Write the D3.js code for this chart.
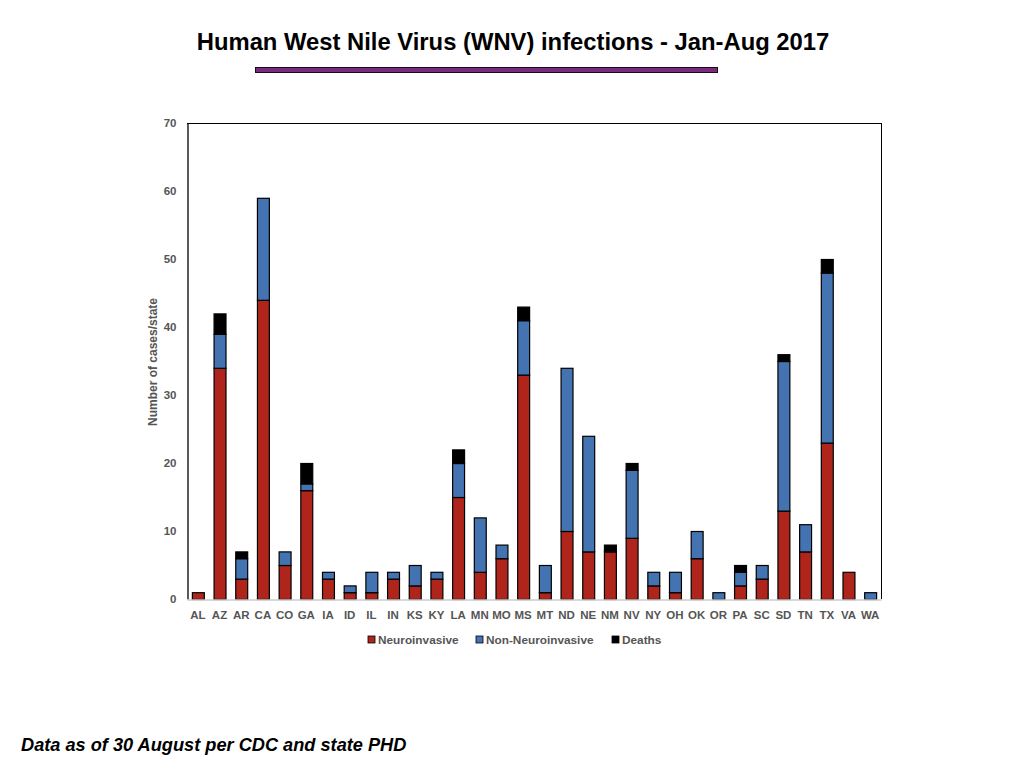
<!DOCTYPE html>
<html><head><meta charset="utf-8">
<script src="https://cdn.jsdelivr.net/npm/d3@7"></script>
<style>
body{margin:0;background:#fff;}
svg{display:block;font-family:"Liberation Sans",Arial,Helvetica,sans-serif;}
</style></head>
<body>
<svg id="chart" width="1024" height="768"></svg>
<script>
const states = ["AL","AZ","AR","CA","CO","GA","IA","ID","IL","IN","KS","KY","LA","MN","MO","MS","MT","ND","NE","NM","NV","NY","OH","OK","OR","PA","SC","SD","TN","TX","VA","WA"];
const neuroinvasive =    [1,34,3,44,5,16,3,1,1,3,2,3,15,4,6,33,1,10,7,7,9,2,1,6,0,2,3,13,7,23,4,0];
const nonNeuroinvasive = [0,5,3,15,2,1,1,1,3,1,3,1,5,8,2,8,4,24,17,0,10,2,3,4,1,2,2,22,4,25,0,1];
const deaths =           [0,3,1,0,0,3,0,0,0,0,0,0,2,0,0,2,0,0,0,1,1,0,0,0,0,1,0,1,0,2,0,0];
const seriesNames = ["Neuroinvasive","Non-Neuroinvasive","Deaths"];
const seriesColors = ["#b0251b","#4373b1","#000000"];
const yTicks = [0,10,20,30,40,50,60,70];

const svg = d3.select("#chart");
const m = {left:187, right:881, top:123, bottom:599};

const rows = states.map((s,i)=>({state:s, "Neuroinvasive":neuroinvasive[i], "Non-Neuroinvasive":nonNeuroinvasive[i], "Deaths":deaths[i]}));
const stack = d3.stack().keys(seriesNames)(rows);

const x = d3.scaleBand().domain(states).range([m.left,m.right]).paddingInner(0.45).paddingOuter(0.225);
const y = d3.scaleLinear().domain([0,70]).range([m.bottom,m.top]);
const color = d3.scaleOrdinal().domain(seriesNames).range(seriesColors);

// title
svg.append("text").attr("x",513).attr("y",50).attr("text-anchor","middle")
  .attr("font-size",23.8).attr("font-weight","bold").attr("fill","#000")
  .text("Human West Nile Virus (WNV) infections - Jan-Aug 2017");
svg.append("rect").attr("x",255.5).attr("y",67.5).attr("width",462).attr("height",5)
  .attr("fill","#7b2b7d").attr("stroke","#1a0a1a").attr("stroke-width",1);

// plot frame
svg.append("line").attr("x1",m.left).attr("x2",m.right).attr("y1",m.top+0.5).attr("y2",m.top+0.5).attr("stroke","#000");
svg.append("line").attr("x1",m.right+0.5).attr("x2",m.right+0.5).attr("y1",m.top).attr("y2",m.bottom).attr("stroke","#000");

// bars
svg.append("g").selectAll("g").data(stack).join("g")
  .attr("fill",d=>color(d.key))
  .selectAll("rect").data(d=>d.filter(p=>p[1]-p[0]>0)).join("rect")
  .attr("x",d=>x(d.data.state)+0.5)
  .attr("y",d=>y(d[1])+0.5)
  .attr("width",x.bandwidth())
  .attr("height",d=>y(d[0])-y(d[1]))
  .attr("stroke","#000").attr("stroke-width",1.2);

// y axis
const ya = svg.append("g").attr("transform",`translate(${m.left+0.5},0)`)
  .call(d3.axisLeft(y).tickValues(yTicks).tickSize(0).tickPadding(11));
ya.select(".domain").attr("stroke","#000").attr("stroke-width",1.3);
ya.selectAll("text").attr("font-size",11.5).attr("font-weight","bold").attr("fill","#555").attr("font-family","Liberation Sans, Arial, sans-serif");

// x axis
const xa = svg.append("g").attr("transform",`translate(0,${m.bottom+0.5})`)
  .call(d3.axisBottom(x).tickSize(0).tickPadding(11));
xa.select(".domain").attr("stroke","#ccc").attr("stroke-width",1.5);
xa.selectAll("text").attr("font-size",11.5).attr("font-weight","bold").attr("fill","#555").attr("font-family","Liberation Sans, Arial, sans-serif");

// y label
svg.append("text").attr("transform","translate(157,362) rotate(-90)").attr("text-anchor","middle")
  .attr("font-size",12).attr("font-weight","bold").attr("fill","#555")
  .text("Number of cases/state");

// legend
const legendX = [368,476,612];
const lg = svg.append("g").selectAll("g").data(seriesNames).join("g")
  .attr("transform",(d,i)=>`translate(${legendX[i]},644)`);
lg.append("rect").attr("x",0).attr("y",-8).attr("width",7).attr("height",7)
  .attr("fill",d=>color(d)).attr("stroke","#000").attr("stroke-width",0.8);
lg.append("text").attr("x",10).attr("y",0).attr("font-size",11.8).attr("font-weight","bold").attr("fill","#555").text(d=>d);

// footnote
svg.append("text").attr("x",21).attr("y",751).attr("font-size",18.2).attr("font-weight","bold").attr("font-style","italic").attr("fill","#000")
  .text("Data as of 30 August per CDC and state PHD");
</script>
</body></html>
